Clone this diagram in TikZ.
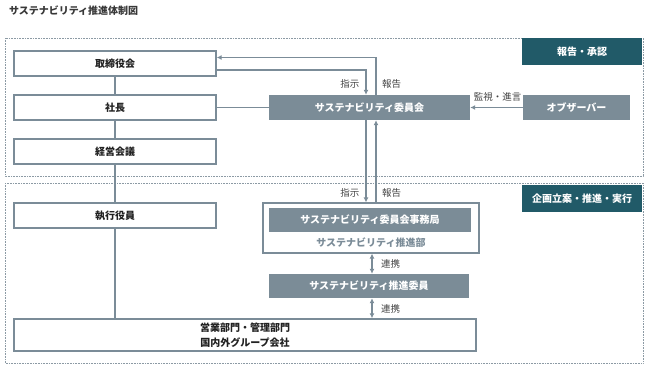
\documentclass[tikz,border=0pt]{standalone}
\usepackage{fontspec}
\setmainfont{Noto Sans CJK JP}
\usepackage{xcolor}
\usetikzlibrary{positioning,arrows.meta,calc}
\definecolor{linegray}{HTML}{7B8C98}
\definecolor{boxfill}{HTML}{7B8C97}
\definecolor{tealbox}{HTML}{215A68}
\definecolor{dotgray}{HTML}{8C9AA4}
\definecolor{textdark}{HTML}{222222}

\begin{document}
\begin{tikzpicture}[x=1pt, y=-1pt,
    every node/.style={font=\fontsize{9.5}{11}\selectfont, text=textdark!85},
    whitebox/.style={draw=linegray, line width=1.4pt, fill=white, text=textdark, font=\fontsize{10}{11}\selectfont\bfseries, inner sep=0pt},
    darkbox/.style={draw=none, fill=boxfill, text=white, font=\fontsize{10}{11}\selectfont\bfseries, inner sep=0pt},
    tagbox/.style={fill=tealbox, text=white, font=\fontsize{10}{11}\selectfont\bfseries, inner sep=0pt, minimum width=120pt, minimum height=27pt},
    zone/.style={draw=dotgray, line width=1pt, dash pattern=on 0.8pt off 0.8pt},
    link/.style={draw=linegray, line width=1.4pt},
    arr/.style={link, -{Latex[length=5pt,width=5pt]}},
    arr2/.style={link, {Latex[length=5pt,width=5pt]}-{Latex[length=5pt,width=5pt]}}]
    \useasboundingbox (0,0) rectangle (648,368);

    % Title
    \node[anchor=west, font=\fontsize{10}{11}\selectfont\bfseries, text=textdark!90] (title) at (5.5,11) {サステナビリティ推進体制図};

    % Zones
    \draw[zone] (5,38) rectangle (643,176);
    \draw[zone] (5,183) rectangle (643,363);
    \node[tagbox] (tagA) at (582,51.5) {報告・承認};
    \node[tagbox] (tagB) at (582,198.5) {企画立案・推進・実行};

    % Left column
    \node[whitebox, minimum width=202pt, minimum height=25pt] (board) at (115,63.5) {取締役会};
    \node[whitebox, minimum width=202pt, minimum height=25pt] (pres) at (115,107.5) {社長};
    \node[whitebox, minimum width=202pt, minimum height=25pt] (mgmt) at (115,151.5) {経営会議};
    \node[whitebox, minimum width=202pt, minimum height=25pt] (exec) at (115,215.5) {執行役員};
    \node[whitebox, minimum width=462pt, minimum height=32pt, align=center, font=\fontsize{10}{15}\selectfont\bfseries] (depts) at (245,335) {営業部門・管理部門\\国内外グループ会社};

    % Committee and observer
    \node[darkbox, minimum width=201pt, minimum height=25pt] (comm) at (369.5,107.5) {サステナビリティ委員会};
    \node[darkbox, minimum width=107pt, minimum height=25pt] (obs) at (576.5,107.5) {オブザーバー};

    % Office
    \node[draw=linegray, line width=1.2pt, fill=white, minimum width=216pt, minimum height=50pt, inner sep=0pt] (office) at (371,228) {};
    \node[darkbox, minimum width=202pt, minimum height=24pt] (secr) at (370,220) {サステナビリティ委員会事務局};
    \node[text=linegray, font=\fontsize{10}{11}\selectfont\bfseries] (dept) at (371,243) {サステナビリティ推進部};
    \node[darkbox, minimum width=200pt, minimum height=24pt] (members) at (369,286) {サステナビリティ推進委員};

    % Vertical chain
    \draw[link] (board) -- (pres);
    \draw[link] (pres) -- (mgmt);
    \draw[link] (mgmt) -- (exec);
    \draw[link] (exec) -- (depts.north -| exec);
    \draw[link] (pres) -- (comm);

    % Order / report lines
    \coordinate (xo) at (366,0);
    \coordinate (xr) at (376,0);
    \coordinate (ytop) at (0,57.5);
    \coordinate (ylow) at (0,70);
    \draw[arr] (board.east |- ylow) -| (comm.north -| xo);
    \draw[arr] (comm.north -| xr) |- (board.east |- ytop);
    \draw[arr] (comm.south -| xo) -- (office.north -| xo);
    \draw[arr] (office.north -| xr) -- (comm.south -| xr);
    \node[anchor=east] (ordA) at (363,84) {指示};
    \node[anchor=west] (repA) at (378.5,84) {報告};
    \node[anchor=east] (ordB) at (363,193) {指示};
    \node[anchor=west] (repB) at (378.5,193) {報告};

    % Observer
    \draw[arr] (obs) -- (comm);
    \node (advice) at (497.5,97) {監視・進言};

    % Cooperation
    \coordinate (xc) at (372,0);
    \draw[arr2] (office.south -| xc) -- (members.north -| xc);
    \draw[arr2] (members.south -| xc) -- (depts.north -| xc);
    \node[anchor=west] (coopA) at (377.5,263.5) {連携};
    \node[anchor=west] (coopB) at (377.5,309) {連携};
\end{tikzpicture}
\end{document}
